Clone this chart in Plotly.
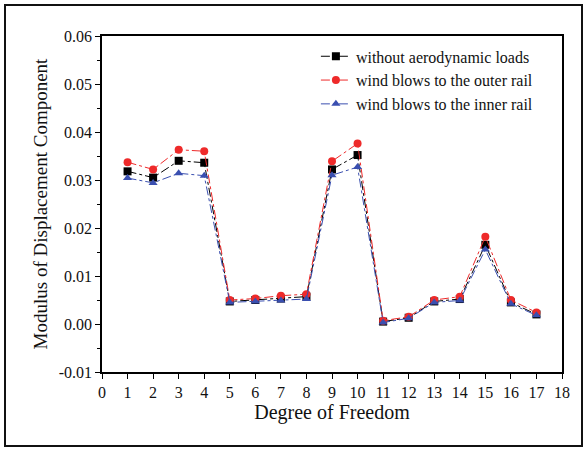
import plotly.graph_objects as go

dof = list(range(1, 18))
no_wind = [0.0318, 0.0305, 0.0340, 0.0336, 0.0047, 0.0050, 0.0053, 0.0057, 0.0322,
           0.0352, 0.0005, 0.0013, 0.0047, 0.0052, 0.0165, 0.0045, 0.0020]
outer_rail = [0.0337, 0.0322, 0.0363, 0.0360, 0.0050, 0.0053, 0.0059, 0.0062, 0.0339,
              0.0376, 0.0007, 0.0015, 0.0050, 0.0057, 0.0182, 0.0050, 0.0024]
inner_rail = [0.0304, 0.0294, 0.0314, 0.0309, 0.0045, 0.0047, 0.0049, 0.0052, 0.0310,
              0.0327, 0.0003, 0.0012, 0.0045, 0.0049, 0.0155, 0.0042, 0.0018]

y_tick_vals = [-0.01, 0.00, 0.01, 0.02, 0.03, 0.04, 0.05, 0.06]
y_tick_text = ["-0.01", "0.00", "0.01", "0.02", "0.03", "0.04", "0.05", "0.06"]

series = [
    ("without aerodynamic loads", no_wind, "#000000", "square"),
    ("wind blows to the outer rail", outer_rail, "#ee2a2a", "circle"),
    ("wind blows to the inner rail", inner_rail, "#3a4fb0", "triangle-up"),
]

FONT = "Liberation Serif, Times New Roman, serif"

fig = go.Figure()
for name, vals, color, sym in series:
    fig.add_trace(go.Scatter(
        x=dof, y=vals, name=name, mode="lines+markers",
        line=dict(color=color, width=1, dash="dashdot"),
        marker=dict(symbol=sym, size=8, color=color),
    ))

fig.update_layout(
    width=587, height=452,
    margin=dict(l=102, r=25, t=36, b=80),
    paper_bgcolor="white", plot_bgcolor="white",
    font=dict(family=FONT, size=16, color="#111"),
    showlegend=True,
    legend=dict(x=0.465, y=0.99, xanchor="left", yanchor="top",
                bgcolor="rgba(255,255,255,0)", font=dict(size=16, family=FONT),
                tracegroupgap=0, itemwidth=30),
    xaxis=dict(range=[0, 18], dtick=1, tick0=0, showgrid=False, zeroline=False,
               showline=True, linecolor="black", linewidth=1.5, mirror=True,
               ticks="outside", ticklen=5, tickwidth=1.2, tickcolor="black",
               tickfont=dict(size=16, family=FONT),
               title=dict(text="Degree of Freedom", font=dict(size=20, family=FONT), standoff=5)),
    yaxis=dict(range=[-0.01, 0.06], tickmode="array", tickvals=y_tick_vals, ticktext=y_tick_text,
               showgrid=False, zeroline=False,
               showline=True, linecolor="black", linewidth=1.5, mirror=True,
               ticks="outside", ticklen=5, tickwidth=1.2, tickcolor="black",
               minor=dict(dtick=0.005, tick0=0, ticklen=3, tickcolor="black", ticks="outside", showgrid=False),
               tickfont=dict(size=16, family=FONT),
               title=dict(text="Modulus of Displacement Component",
                          font=dict(size=19, family=FONT), standoff=6)),
)

# outer frame around the whole figure
fig.add_shape(type="rect", xref="paper", yref="paper",
              x0=(5 - 102) / 460, x1=(582 - 102) / 460,
              y0=(372 - 446) / 336, y1=(372 - 5) / 336,
              line=dict(color="#111", width=2), fillcolor="rgba(0,0,0,0)")

fig.write_html("out.html")
